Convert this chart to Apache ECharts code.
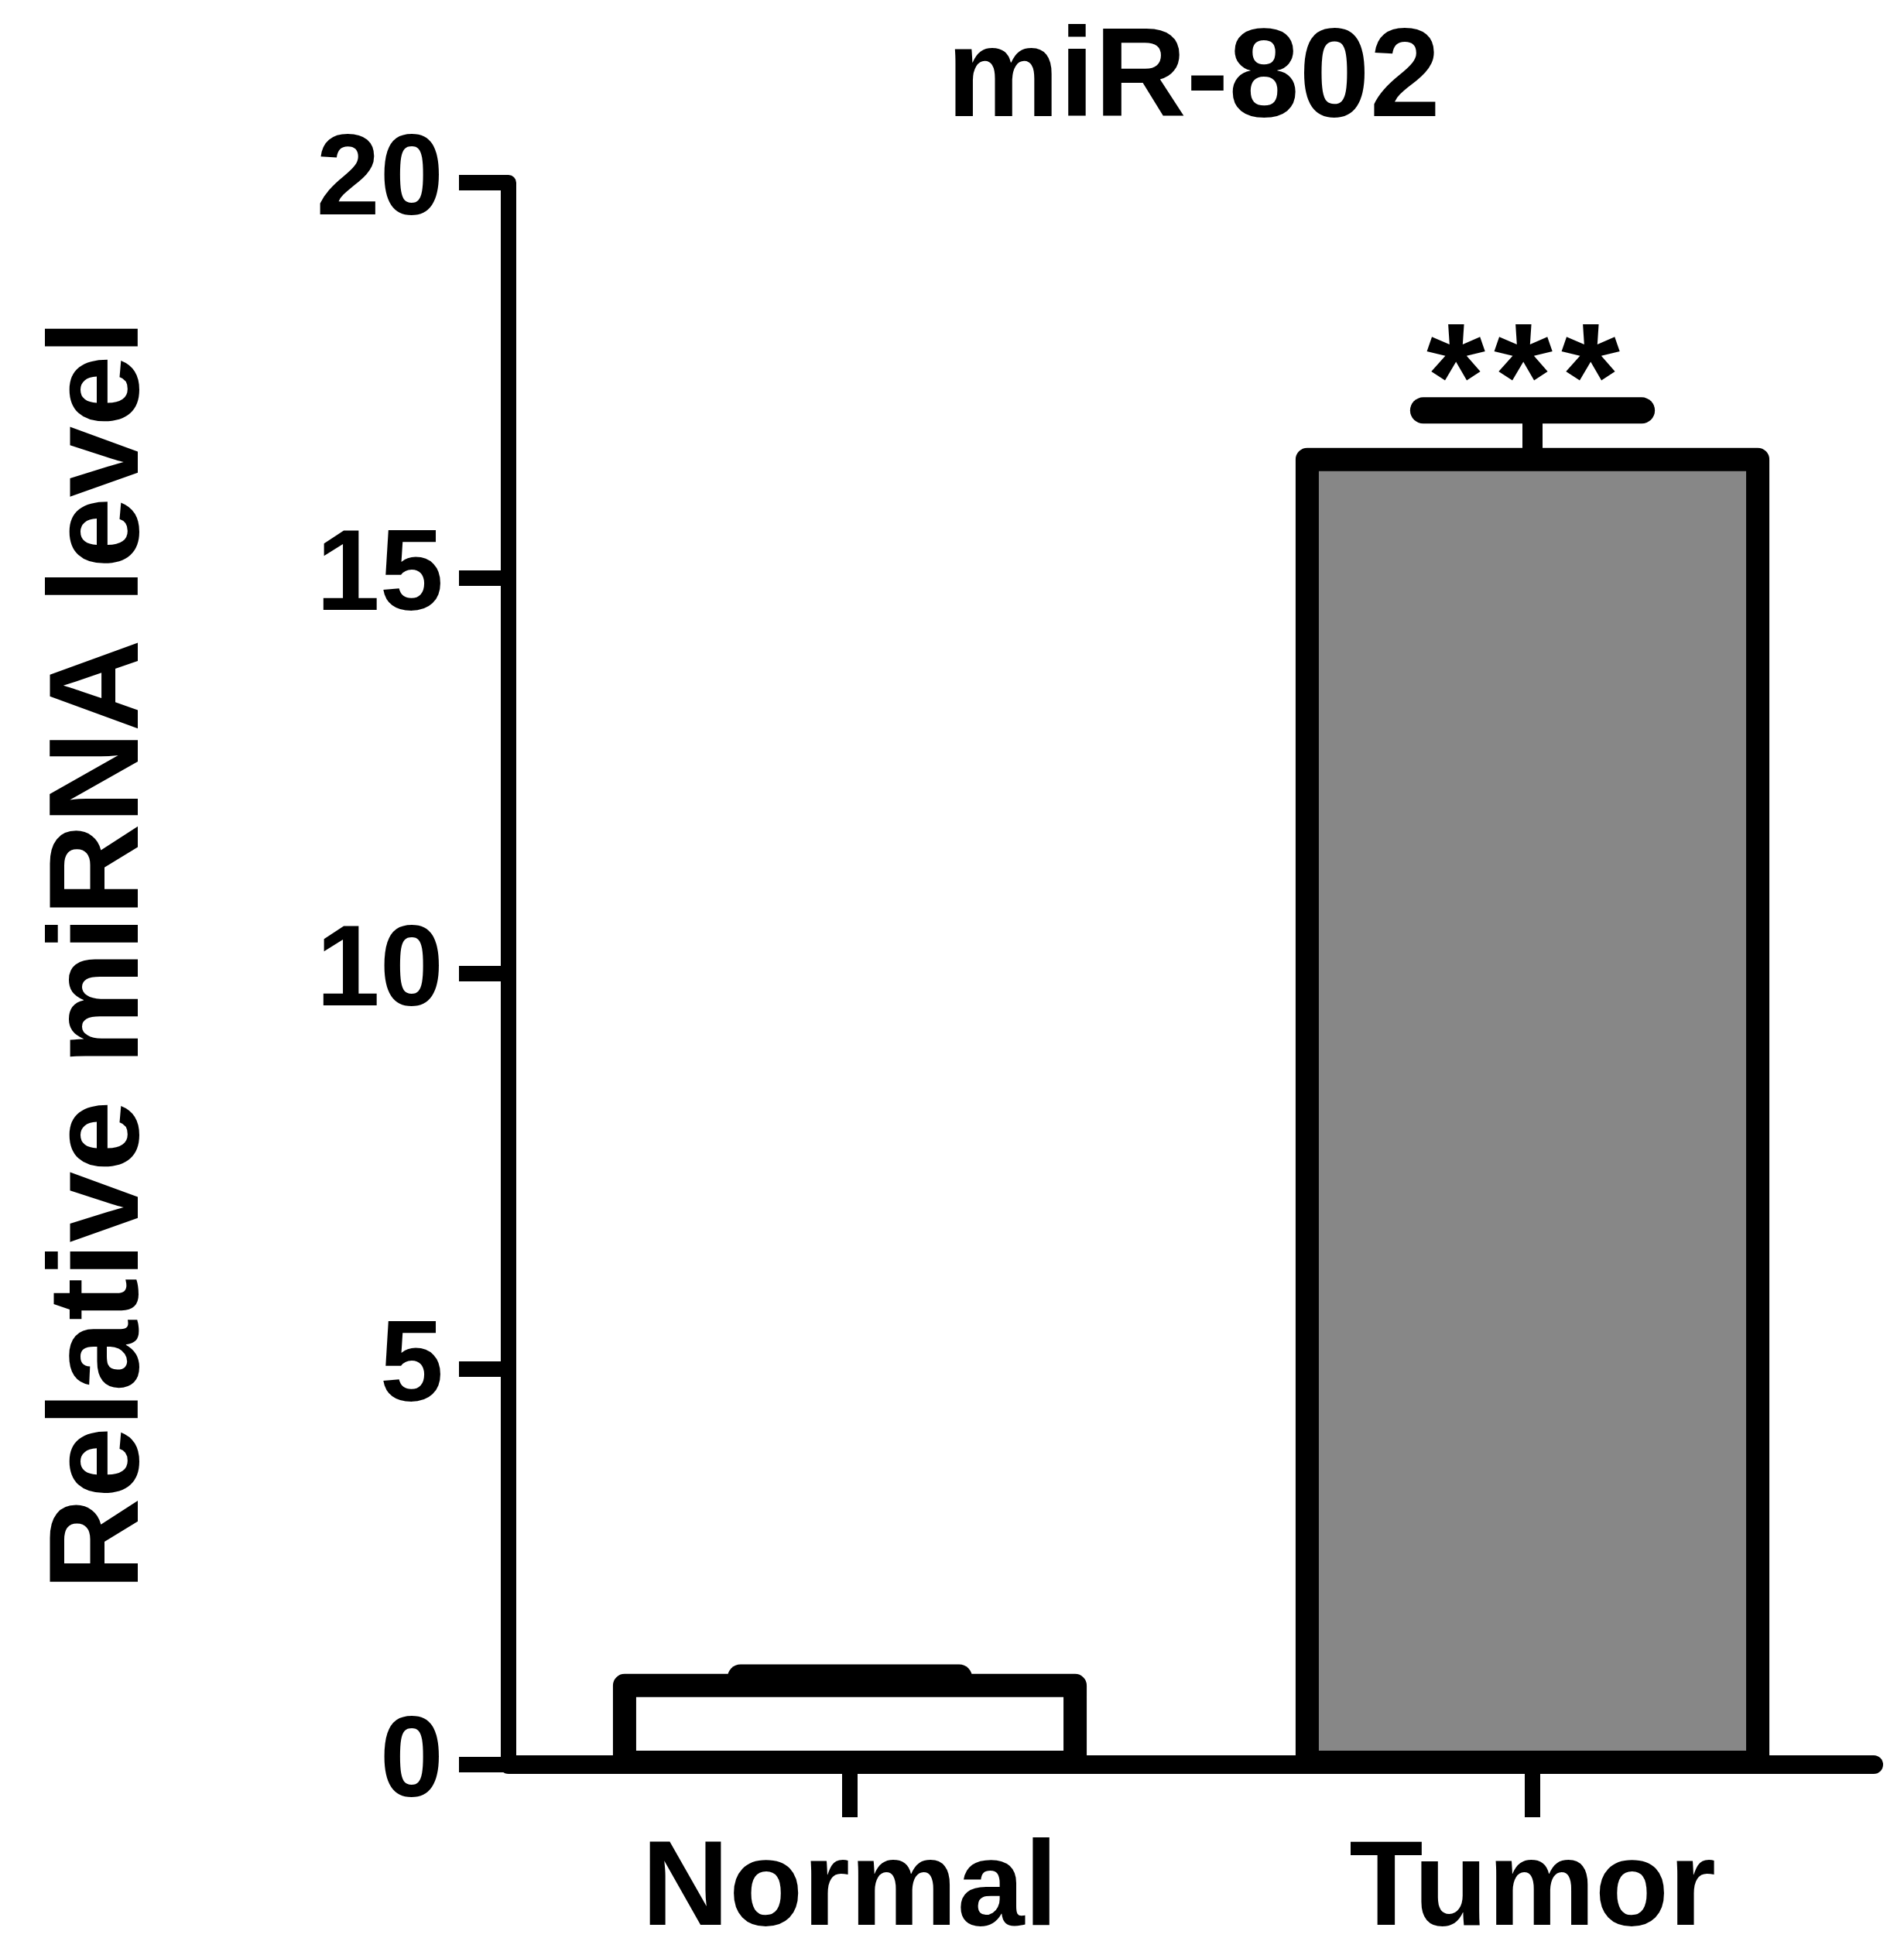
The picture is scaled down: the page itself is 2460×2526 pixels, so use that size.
<!DOCTYPE html>
<html>
<head>
<meta charset="utf-8">
<script src="https://cdn.jsdelivr.net/npm/echarts@6/dist/echarts.min.js"></script>
<style>
  html, body { margin: 0; padding: 0; background: #fff; }
  #chart { width: 2460px; height: 2526px; }
</style>
</head>
<body>
<div id="chart"></div>
<script>
  // data
  var categories = ['Normal', 'Tumor'];
  var meanValues = [1.0, 16.5];
  var errorValues = [0.1, 0.62];
  var barColors = ['#ffffff', '#878787'];
  var sigLabels = ['', '***'];
  var yMin = 0, yMax = 20, yStep = 5;

  var FONT = '"Liberation Sans", Arial, Helvetica, sans-serif';

  var myChart = echarts.init(document.getElementById('chart'));

  // bar with the outline centred on the value (like the prism style)
  function barItem(params, api) {
    var i = api.value(0);
    var top = api.coord([i, api.value(1)]);
    var zero = api.coord([i, 0]);
    var w = api.size([1, 0])[0] * 0.66;
    return {
      type: 'rect',
      shape: { x: top[0] - w / 2, y: top[1], width: w, height: zero[1] - top[1] - 3 },
      style: { fill: barColors[i], stroke: '#000', lineWidth: 30, lineJoin: 'round' }
    };
  }

  function errorItem(params, api) {
    var i = api.value(0);
    var mean = api.value(1);
    var err = api.value(2);
    var base = api.coord([i, mean]);
    var top = api.coord([i, mean + err]);
    var band = api.size([1, 0])[0];
    var capHalf = band * 0.16;
    var children = [
      {
        type: 'line',
        shape: { x1: top[0], y1: base[1], x2: top[0], y2: top[1] },
        style: { stroke: '#000', lineWidth: 26 }
      },
      {
        type: 'line',
        shape: { x1: top[0] - capHalf, y1: top[1], x2: top[0] + capHalf, y2: top[1] },
        style: { stroke: '#000', lineWidth: 34, lineCap: 'round' }
      }
    ];
    if (sigLabels[i]) {
      var stars = sigLabels[i].split('').map(function () { return '{a|*}'; }).join('{g| }');
      children.push({
        type: 'text',
        x: top[0] - 12,
        y: top[1] + 66,
        style: {
          text: stars,
          textAlign: 'center',
          textVerticalAlign: 'bottom',
          fill: '#000',
          rich: {
            a: { fontSize: 195, fontWeight: 'bold', fontFamily: FONT, fill: '#000' },
            g: { fontSize: 40, fontFamily: FONT }
          }
        }
      });
    }
    return { type: 'group', children: children };
  }

  myChart.setOption({
    backgroundColor: '#fff',
    animation: false,
    title: {
      text: 'miR-802',
      left: 1537,
      top: 18,
      textAlign: 'center',
      textStyle: { fontFamily: FONT, fontSize: 164, fontWeight: 'bold', color: '#000' }
    },
    grid: {
      left: 657,
      right: 39,
      top: 236,
      bottom: 246
    },
    xAxis: {
      type: 'category',
      data: categories,
      axisLine: { lineStyle: { color: '#000', width: 24 } },
      axisTick: { show: true, alignWithLabel: true, length: 68, lineStyle: { color: '#000', width: 20 } },
      axisLabel: { margin: 86, fontFamily: FONT, fontSize: 156, fontWeight: 'bold', color: '#000' }
    },
    yAxis: {
      type: 'value',
      min: yMin,
      max: yMax,
      interval: yStep,
      name: 'Relative miRNA level',
      nameLocation: 'middle',
      nameRotate: 90,
      nameGap: 442,
      nameTextStyle: {
        fontFamily: FONT, fontSize: 165, fontWeight: 'bold', color: '#000',
        padding: [0, 0, 0, 48]
      },
      axisLine: { show: true, lineStyle: { color: '#000', width: 20 } },
      axisTick: { show: true, length: 64, lineStyle: { color: '#000', width: 20 } },
      axisLabel: { margin: 84, fontFamily: FONT, fontSize: 148, fontWeight: 'bold', color: '#000' },
      splitLine: { show: false }
    },
    series: [
      {
        type: 'custom',
        renderItem: barItem,
        data: meanValues.map(function (v, i) { return [i, v]; }),
        z: 2
      },
      {
        type: 'custom',
        renderItem: errorItem,
        data: meanValues.map(function (v, i) { return [i, v, errorValues[i]]; }),
        z: 3
      }
    ]
  });
</script>
</body>
</html>
